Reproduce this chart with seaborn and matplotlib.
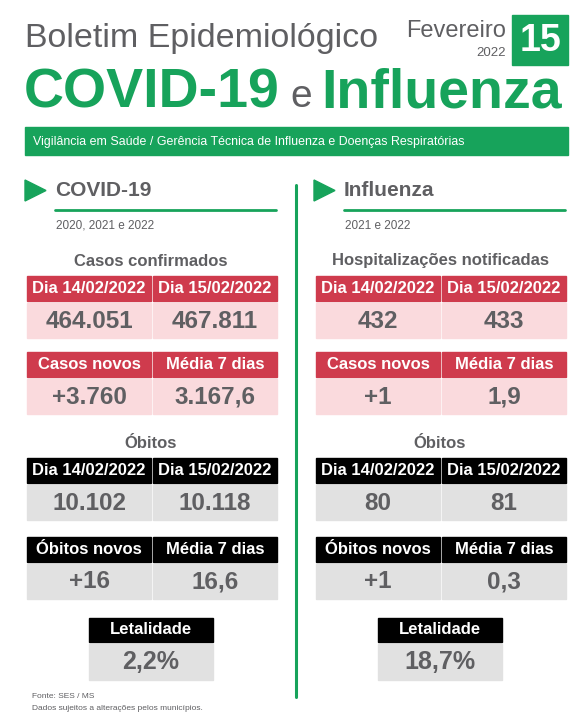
import matplotlib
matplotlib.use("Agg")
import matplotlib.pyplot as plt
from matplotlib.patches import Rectangle, Polygon
import seaborn as sns

sns.set_style("white")
plt.rcParams['font.family'] = ['Liberation Sans', 'DejaVu Sans']

GREEN = "#17a35b"; GRAYT = "#5f5f62"; RED = "#cf3b4d"; PINK = "#fadadd"; LGRAY = "#e1e1e1"

sections = ["COVID-19", "Influenza"]
periods = ["2020, 2021 e 2022", "2021 e 2022"]
first_titles = ["Casos confirmados", "Hospitalizações notificadas"]
date_labels = ["Dia 14/02/2022", "Dia 15/02/2022"]
cases_totals = [["464.051", "467.811"], ["432", "433"]]
new_labels = ["Casos novos", "Média 7 dias"]
cases_new = [["+3.760", "3.167,6"], ["+1", "1,9"]]
deaths_totals = [["10.102", "10.118"], ["80", "81"]]
death_new_labels = ["Óbitos novos", "Média 7 dias"]
deaths_new = [["+16", "16,6"], ["+1", "0,3"]]
lethality = ["2,2%", "18,7%"]

fig = plt.figure(figsize=(5.8, 7.22), dpi=100)
ax = fig.add_axes([0, 0, 1, 1])
ax.set_xlim(0, 580); ax.set_ylim(722, 0); ax.axis("off")

ax.text(25, 38, "Boletim Epidemiológico", fontsize=24.5, color=GRAYT, va="center")
ax.text(506, 31, "Fevereiro", fontsize=17, color=GRAYT, va="center", ha="right")
ax.text(506, 53, "2022", fontsize=9.5, color=GRAYT, va="center", ha="right")
ax.add_patch(Rectangle((512, 15), 56, 50, color=GREEN))
ax.text(540, 41, "15", fontsize=27, color="white", weight="bold", ha="center", va="center")
ax.text(24, 94, "COVID-19", fontsize=40, color=GREEN, weight="bold", va="center")
ax.text(290, 97, "e", fontsize=28, color=GRAYT, va="center")
ax.text(562, 94, "Influenza", fontsize=40, color=GREEN, weight="bold", va="center", ha="right")
ax.add_patch(Rectangle((25, 127), 543, 28, color=GREEN))
ax.text(33, 142, "Vigilância em Saúde / Gerência Técnica de Influenza e Doenças Respiratórias",
        fontsize=8.9, color="white", va="center")
ax.plot([296, 296], [185, 697], color=GREEN, lw=2.2)

def block(x0, y0, labels, values, hc, vc, tc):
    w = 124
    for i in range(2):
        x = x0 + i * 126
        ax.add_patch(Rectangle((x, y0), w, 25, color=hc))
        ax.text(x + w / 2, y0 + 12.5, labels[i], color="white", fontsize=12, weight="bold", ha="center", va="center")
        ax.add_patch(Rectangle((x, y0 + 27), w, 35, color=vc))
        ax.text(x + w / 2, y0 + 45, values[i], color=tc, fontsize=17.5, weight="bold", ha="center", va="center")

for s in range(2):
    ox = 0 if s == 0 else 289
    ax.add_patch(Polygon([(ox + 25, 180), (ox + 25, 201), (ox + 46, 190.5)], color=GREEN))
    ax.text(ox + 55, 191, sections[s], fontsize=15, weight="bold", color=GRAYT, va="center")
    ax.plot([ox + 55, ox + 276], [210, 210], color=GREEN, lw=2)
    ax.text(ox + 56, 226, periods[s], fontsize=8.5, color=GRAYT, va="center")
    cx = ox + 151
    ax.text(cx, 261, first_titles[s], fontsize=12, weight="bold", color=GRAYT, ha="center", va="center")
    block(ox + 27, 276, date_labels, cases_totals[s], RED, PINK, GRAYT)
    block(ox + 27, 352, new_labels, cases_new[s], RED, PINK, GRAYT)
    ax.text(cx, 443, "Óbitos", fontsize=12, weight="bold", color=GRAYT, ha="center", va="center")
    block(ox + 27, 458, date_labels, deaths_totals[s], "black", LGRAY, GRAYT)
    block(ox + 27, 537, death_new_labels, deaths_new[s], "black", LGRAY, GRAYT)
    ax.add_patch(Rectangle((cx - 62, 618), 124, 24, color="black"))
    ax.text(cx, 630, "Letalidade", color="white", fontsize=12, weight="bold", ha="center", va="center")
    ax.add_patch(Rectangle((cx - 62, 644), 124, 36, color=LGRAY))
    ax.text(cx, 662, lethality[s], color=GRAYT, fontsize=18, weight="bold", ha="center", va="center")

ax.text(32, 696, "Fonte: SES / MS", fontsize=6, color=GRAYT, va="center")
ax.text(32, 708, "Dados sujeitos a alterações pelos municípios.", fontsize=6, color=GRAYT, va="center")

fig.savefig("out.png", dpi=100, facecolor="white")
